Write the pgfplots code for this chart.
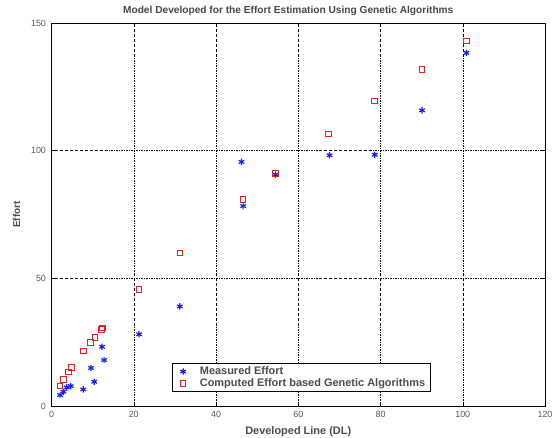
\documentclass[border=0pt]{standalone}
\usepackage{pgfplots}
\pgfplotsset{compat=1.18}
\usepackage{fontspec}
\setmainfont{Liberation Sans}
\definecolor{tickgray}{RGB}{90,90,90}
\definecolor{mblue}{RGB}{20,30,240}
\definecolor{mred}{RGB}{235,30,30}
\begin{document}
\begin{tikzpicture}
\begin{axis}[
  name=ax, at={(0,0)}, anchor=south west,
  scale only axis, width=493.5bp, height=383bp,
  xmin=0, xmax=120, ymin=0, ymax=150,
  xtick={0,20,...,120}, ytick={0,50,100,150},
  tick align=inside, tick pos=both,
  major tick length=4bp,
  grid=major,
  major grid style={black, dash pattern=on 2pt off 1.2pt on 0.6pt off 1.2pt, line width=0.5pt},
  axis line style={black, line width=0.7pt},
  every tick/.style={black, line width=0.5pt},
  ticklabel style={font=\fontsize{9}{10}\selectfont, text=tickgray},
  xticklabel style={yshift=-2bp},
  yticklabel style={xshift=-2bp},
  /pgf/number format/assume math mode=true,
  title={\textbf{Model Developed for the Effort Estimation Using Genetic Algorithms}},
  title style={font=\fontsize{10.2}{11}\selectfont, text=black!72, yshift=-2bp, xshift=-10bp},
  xlabel={\textbf{Developed Line (DL)}},
  ylabel={\textbf{Effort}},
  xlabel style={font=\fontsize{11}{12}\selectfont, text=black!70, yshift=-1.5bp},
  ylabel style={font=\fontsize{10}{11}\selectfont, text=black!70, yshift=4bp},
  legend style={at={(0.244,0.0366)}, anchor=south west, draw=black, line width=0.6pt,
    font=\fontsize{11}{12.5}\selectfont\bfseries, text=black!70, inner xsep=3bp, inner ysep=1.5pt,
    row sep=-1.5pt, legend cell align=left},
  legend image code/.code={%
    \path[draw=none,fill=none] (0cm,0cm) rectangle (0.8cm,0.01cm);
    \draw[#1] plot coordinates {(0.28cm,0cm)};},
  clip=false,
]
\addplot[only marks, mark=asterisk, mark size=3.2pt, draw=mblue, mark options={draw=mblue, solid}, line width=1.2pt] coordinates {
(100.9,138.3) (90.1,115.8) (78.6,98.4) (67.6,98.2) (46.2,95.6) (54.5,90.6)
(46.6,78.3) (31.2,39.0) (21.3,28.1) (12.3,23.2) (12.8,18.0) (9.6,14.9)
(10.4,9.5) (7.7,6.5) (4.7,7.8) (3.7,7.3) (2.9,5.6) (2.1,4.3)
};
\addlegendentry{Measured Effort}
\addplot[only marks, mark=square, mark size=2.8pt, draw=mred, mark options={draw=mred, fill=none, solid}, line width=0.9pt] coordinates {
(100.9,143.0) (90.1,131.8) (78.5,119.4) (67.4,106.5) (54.5,91.1) (46.6,80.9)
(31.2,60.0) (21.3,45.7) (12.4,30.6) (12.1,30.0) (10.6,26.9) (9.5,25.0)
(7.7,21.6) (4.9,15.1) (4.1,13.4) (2.9,10.4) (2.1,7.8)
};
\addlegendentry{Computed Effort based Genetic Algorithms}
\end{axis}
\pgfresetboundingbox
\useasboundingbox (-51.5bp,-32bp) rectangle (506.5bp,406bp);
\end{tikzpicture}
\end{document}
